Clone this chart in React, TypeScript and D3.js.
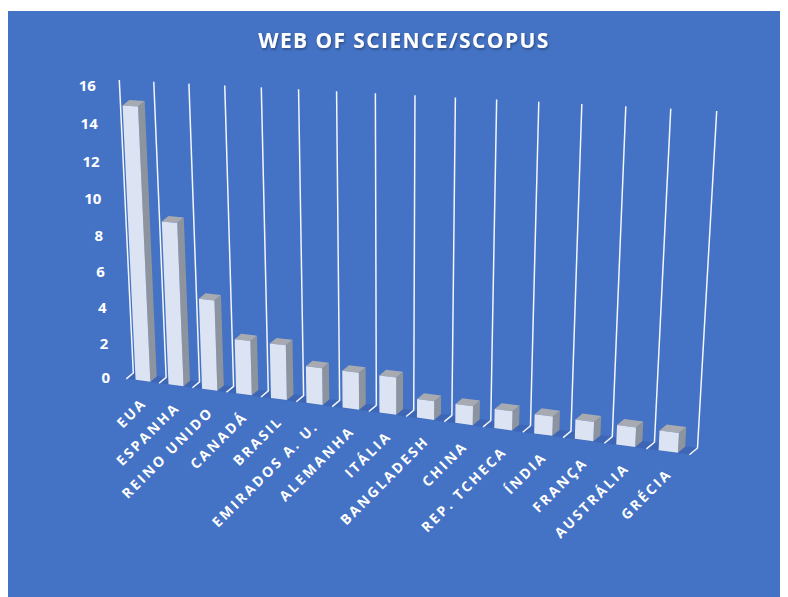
import React, { useEffect, useRef } from 'react';
import * as d3 from 'd3';

const countries = [
  'EUA', 'ESPANHA', 'REINO UNIDO', 'CANADÁ', 'BRASIL', 'EMIRADOS A. U.',
  'ALEMANHA', 'ITÁLIA', 'BANGLADESH', 'CHINA', 'REP. TCHECA', 'ÍNDIA',
  'FRANÇA', 'AUSTRÁLIA', 'GRÉCIA'
];
const counts = [15, 9, 5, 3, 3, 2, 2, 2, 1, 1, 1, 1, 1, 1, 1];
const yTicks = [0, 2, 4, 6, 8, 10, 12, 14, 16];
const title = 'WEB OF SCIENCE/SCOPUS';

// back wall as seen on the page: bottom-left, bottom-right, top-right, top-left
const wallCorners = [[133.3, 373], [697.5, 448], [716.7, 111], [119.3, 80]];
// offset from back wall to front edge of the floor
const depthVec = [-7, 5.8];

// unit square -> quad (perspective), plus a depth term
function makeProjection(corners, depth) {
  const [[x0, y0], [x1, y1], [x2, y2], [x3, y3]] = corners;
  const dx1 = x1 - x2, dx2 = x3 - x2, dx3 = x0 - x1 + x2 - x3;
  const dy1 = y1 - y2, dy2 = y3 - y2, dy3 = y0 - y1 + y2 - y3;
  const den = dx1 * dy2 - dx2 * dy1;
  const g = (dx3 * dy2 - dx2 * dy3) / den;
  const h = (dx1 * dy3 - dx3 * dy1) / den;
  const a = x1 - x0 + g * x1, b = x3 - x0 + h * x3, c = x0;
  const d = y1 - y0 + g * y1, e = y3 - y0 + h * y3, f = y0;
  return (u, v, z) => {
    const w = g * u + h * v + 1;
    return [(a * u + b * v + c + depth[0] * z) / w, (d * u + e * v + f + depth[1] * z) / w];
  };
}

const App = () => {
  const svgRef = useRef(null);

  useEffect(() => {
    const svg = d3.select(svgRef.current);
    svg.selectAll('*').remove();

    const defs = svg.append('defs');
    defs.append('filter')
      .attr('id', 'shadow')
      .append('feDropShadow')
      .attr('dx', 1).attr('dy', 1.5).attr('stdDeviation', 1.2)
      .attr('flood-color', '#000').attr('flood-opacity', 0.35);

    svg.append('rect')
      .attr('x', 0).attr('y', 3)
      .attr('width', 780).attr('height', 600)
      .attr('fill', '#4472c4');

    const root = svg.append('g').attr('transform', 'translate(-8,-8)');

    const x = d3.scaleBand().domain(countries).range([0, 1]).paddingInner(0.55).paddingOuter(0.275);
    const y = d3.scaleLinear().domain([0, 16]).range([0, 1]);
    const P = makeProjection(wallCorners, depthVec);
    const poly = pts => 'M' + pts.map(p => p.join(',')).join('L') + 'Z';
    const step = x.step();

    // floor
    root.append('path')
      .attr('d', poly([P(0, 0, 0), P(1, 0, 0), P(1, 0, 1), P(0, 0, 1)]))
      .attr('fill', '#3d67b6');

    // gridlines on the back wall + floor
    const gridPos = d3.range(countries.length + 1).map(i => i * step);
    root.selectAll('.grid')
      .data(gridPos)
      .enter().append('path')
      .attr('class', 'grid')
      .attr('d', u => {
        const pts = [P(u, 0, 1), P(u, 0, 0), P(u, y(16), 0)];
        return 'M' + pts.map(p => p.join(',')).join('L');
      })
      .attr('fill', 'none')
      .attr('stroke', '#f4f6fb')
      .attr('stroke-width', 1.5)
      .attr('stroke-linejoin', 'round');

    // bars
    const zf = 0.95, zb = 0.05;
    const bars = root.selectAll('.bar')
      .data(countries.map((c, i) => ({ c, v: counts[i] })))
      .enter().append('g')
      .attr('class', 'bar');

    bars.append('path')
      .attr('d', d => {
        const u1 = x(d.c) + x.bandwidth(), v1 = y(d.v);
        return poly([P(u1, 0, zf), P(u1, 0, zb), P(u1, v1, zb), P(u1, v1, zf)]);
      })
      .attr('fill', '#8d949d');

    bars.append('path')
      .attr('d', d => {
        const u0 = x(d.c), u1 = u0 + x.bandwidth(), v1 = y(d.v);
        return poly([P(u0, v1, zf), P(u1, v1, zf), P(u1, v1, zb), P(u0, v1, zb)]);
      })
      .attr('fill', '#a7abb1');

    bars.append('path')
      .attr('d', d => {
        const u0 = x(d.c), u1 = u0 + x.bandwidth(), v1 = y(d.v);
        return poly([P(u0, 0, zf), P(u1, 0, zf), P(u1, v1, zf), P(u0, v1, zf)]);
      })
      .attr('fill', '#dce3f3');

    // value axis labels
    root.selectAll('.ytick')
      .data(yTicks)
      .enter().append('text')
      .attr('class', 'ytick')
      .attr('x', t => P(0, y(t), 0.6)[0] - 19)
      .attr('y', t => P(0, y(t), 0.6)[1] + 1)
      .attr('text-anchor', 'end')
      .attr('dominant-baseline', 'central')
      .attr('fill', '#fff')
      .style('font-family', '"Open Sans", sans-serif')
      .style('font-weight', 700)
      .style('font-size', '15px')
      .text(t => t);

    // category labels
    root.selectAll('.xlab')
      .data(countries)
      .enter().append('text')
      .attr('class', 'xlab')
      .attr('transform', c => {
        const [px, py] = P(x(c) + x.bandwidth() / 2, 0, 1);
        return `translate(${px + 5},${py + 23}) rotate(-45)`;
      })
      .attr('text-anchor', 'end')
      .attr('fill', '#fff')
      .style('font-family', '"Open Sans", sans-serif')
      .style('font-weight', 700)
      .style('font-size', '14px')
      .style('letter-spacing', '2.4px')
      .text(c => c);

    root.append('text')
      .attr('x', 404)
      .attr('y', 48)
      .attr('text-anchor', 'middle')
      .attr('fill', '#fff')
      .attr('filter', 'url(#shadow)')
      .style('font-family', '"Open Sans", sans-serif')
      .style('font-weight', 700)
      .style('font-size', '21px')
      .style('letter-spacing', '1.4px')
      .text(title);
  }, []);

  return <svg ref={svgRef} width={780} height={589} style={{ display: 'block' }}></svg>;
};

export default App;
